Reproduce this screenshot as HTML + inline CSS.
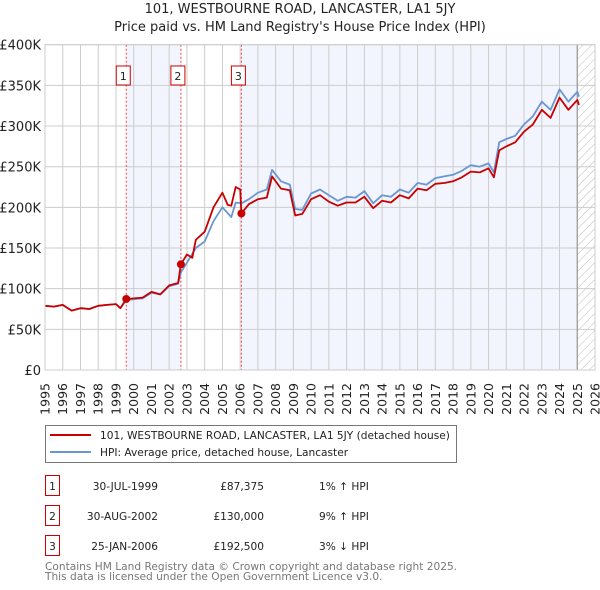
<!DOCTYPE html>
<html><head><meta charset="utf-8"><style>
body{margin:0;background:#fff;font-family:"DejaVu Sans","Liberation Sans",sans-serif;}
#wrap{position:relative;width:600px;height:590px;overflow:hidden}
svg text{font-family:"DejaVu Sans","Liberation Sans",sans-serif}
</style></head><body>
<div id="wrap">
<svg id="chart" width="600" height="590"></svg>
</div>
<script>
const years=[1995,1996,1997,1998,1999,2000,2001,2002,2003,2004,2005,2006,2007,2008,2009,2010,2011,2012,2013,2014,2015,2016,2017,2018,2019,2020,2021,2022,2023,2024,2025,2026];
const yTicks=[0,50000,100000,150000,200000,250000,300000,350000,400000];
const yTickLabels=["£0","£50K","£100K","£150K","£200K","£250K","£300K","£350K","£400K"];
const hpiTimes=[1995,1995.5,1996,1996.5,1997,1997.5,1998,1998.5,1999,1999.25,1999.58,2000,2000.5,2001,2001.5,2002,2002.5,2002.66,2003,2003.5,2004,2004.5,2005,2005.5,2005.75,2006.07,2006.5,2007,2007.5,2007.8,2008.3,2008.8,2009.1,2009.5,2010,2010.5,2011,2011.5,2012,2012.5,2013,2013.5,2014,2014.5,2015,2015.5,2016,2016.5,2017,2017.5,2018,2018.5,2019,2019.5,2020,2020.3,2020.6,2021,2021.5,2022,2022.5,2023,2023.5,2024,2024.5,2025,2025.1];
const hpiValues=[79000,78000,80000,73000,76000,75000,79000,80000,81000,76000,86000,87000,88000,95000,93000,103000,106000,120000,132000,150000,158000,183000,200000,188000,206000,205000,210000,218000,222000,246000,232000,228000,198000,197000,217000,222000,215000,208000,213000,212000,220000,205000,215000,213000,222000,218000,230000,228000,236000,238000,240000,245000,252000,250000,254000,243000,280000,284000,288000,302000,312000,330000,320000,345000,330000,342000,336000];
const saleTimes=[1995,1995.5,1996,1996.5,1997,1997.5,1998,1998.5,1999,1999.25,1999.58,2000,2000.5,2001,2001.5,2002,2002.5,2002.66,2003,2003.3,2003.5,2004,2004.5,2005,2005.3,2005.5,2005.75,2006.0,2006.07,2006.5,2007,2007.5,2007.8,2008.3,2008.8,2009.1,2009.5,2010,2010.5,2011,2011.5,2012,2012.5,2013,2013.5,2014,2014.5,2015,2015.5,2016,2016.5,2017,2017.5,2018,2018.5,2019,2019.5,2020,2020.3,2020.6,2021,2021.5,2022,2022.5,2023,2023.5,2024,2024.5,2025,2025.1];
const saleValues=[79000,78000,80000,73000,76000,75000,79000,80000,81000,76000,87375,88000,89000,96000,93000,104000,107000,130000,142000,138000,160000,170000,200000,218000,203000,202000,225000,222000,192500,204000,210000,212000,238000,223000,221000,190000,192000,210000,215000,207000,202000,206000,206000,213000,199000,208000,206000,215000,211000,223000,221000,229000,230000,232000,237000,244000,243000,248000,237000,270000,275000,280000,293000,302000,320000,310000,335000,320000,332000,326000];
const sales=[{n:"1",t:1999.58,v:87375,date:"30-JUL-1999",price:"£87,375",hpi:"1% ↑ HPI"},{n:"2",t:2002.66,v:130000,date:"30-AUG-2002",price:"£130,000",hpi:"9% ↑ HPI"},{n:"3",t:2006.07,v:192500,date:"25-JAN-2006",price:"£192,500",hpi:"3% ↓ HPI"}];

const X0=45,X1=595,Y0=370,Y1=44.7;
const xs=t=>X0+(t-1995)/(2026-1995)*(X1-X0);
const ys=v=>Y0-v/400000*(Y0-Y1);
const svg=document.getElementById('chart');
const NS="http://www.w3.org/2000/svg";
function mk(tag,attrs,parent){const e=document.createElementNS(NS,tag);for(const k in attrs)e.setAttribute(k,attrs[k]);(parent||svg).appendChild(e);return e;}

let defs=mk('defs',{});
let pat=mk('pattern',{id:'hatch',width:6,height:6,patternUnits:'userSpaceOnUse',patternTransform:'rotate(45)'},defs);
mk('line',{x1:0,y1:0,x2:0,y2:6,stroke:'#bbb','stroke-width':1},pat);

let t1=mk('text',{x:300,y:13,'text-anchor':'middle','font-size':13,fill:'#222'});t1.textContent="101, WESTBOURNE ROAD, LANCASTER, LA1 5JY";

let t2=mk('text',{x:300,y:31,'text-anchor':'middle','font-size':13,fill:'#222'});t2.textContent="Price paid vs. HM Land Registry's House Price Index (HPI)";


let plot=mk('rect',{x:X0,y:Y1,width:X1-X0,height:Y0-Y1,fill:'#fff'});

let sh1=mk('rect',{x:xs(sales[0].t),y:Y1,width:xs(sales[1].t)-xs(sales[0].t),height:Y0-Y1,fill:'#f2f5fd'});

let sh2=mk('rect',{x:xs(sales[2].t),y:Y1,width:xs(2025.0)-xs(sales[2].t),height:Y0-Y1,fill:'#f2f5fd'});

let hz=mk('rect',{x:xs(2025.0),y:Y1,width:X1-xs(2025.0),height:Y0-Y1,fill:'url(#hatch)'});


years.forEach(y=>{let l=mk('line',{x1:xs(y),x2:xs(y),y1:Y1,y2:Y0,stroke:'#ccc','stroke-width':1});

const tx0=xs(y)+4.5,ty0=Y0+13;
let tx=mk('text',{x:tx0,y:ty0,'text-anchor':'end','font-size':12.5,fill:'#222',transform:'rotate(-90 '+tx0+' '+ty0+')'});tx.textContent=y;
});
yTicks.forEach((v,i)=>{let l=mk('line',{x1:X0,x2:X1,y1:ys(v),y2:ys(v),stroke:'#ccc','stroke-width':1});

let tx=mk('text',{x:X0-4,y:ys(v)+5,'text-anchor':'end','font-size':13,fill:'#222'});tx.textContent=yTickLabels[i];
});
let nl=mk('line',{x1:xs(2025.0),x2:xs(2025.0),y1:Y1,y2:Y0,stroke:'#999','stroke-width':1.2});


sales.forEach(s=>{let l=mk('line',{x1:xs(s.t),x2:xs(s.t),y1:Y1,y2:Y0,stroke:'#e44','stroke-width':1,'stroke-dasharray':'2,2'});

let b=mk('rect',{x:xs(s.t)-10,y:66,width:14,height:19,fill:'#fff',stroke:'#c00','stroke-width':1});

let tx=mk('text',{x:xs(s.t)-3,y:80,'text-anchor':'middle','font-size':11,fill:'#222'});tx.textContent=s.n;
});

function path(ts,vs){return ts.map((t,i)=>(i?'L':'M')+xs(t).toFixed(1)+','+ys(vs[i]).toFixed(1)).join('');}
let hp=mk('path',{d:path(hpiTimes,hpiValues),fill:'none',stroke:'#6a96d2','stroke-width':1.8,'stroke-linejoin':'round'});

let rp=mk('path',{d:path(saleTimes,saleValues),fill:'none',stroke:'#c80000','stroke-width':1.8,'stroke-linejoin':'round'});

sales.forEach(s=>{let c=mk('circle',{cx:xs(s.t),cy:ys(s.v),r:4,fill:'#c80000'});
});
let fr=mk('rect',{x:X0,y:Y1,width:X1-X0,height:Y0-Y1,fill:'none',stroke:'#ccc'});


// legend
let lg=mk('rect',{x:45.5,y:425.5,width:411,height:37,fill:'#fff',stroke:'#777'});

let l1=mk('line',{x1:50,x2:91,y1:435,y2:435,stroke:'#c80000','stroke-width':2});

let lt1=mk('text',{x:100,y:439,'font-size':10.6,fill:'#222'});lt1.textContent="101, WESTBOURNE ROAD, LANCASTER, LA1 5JY (detached house)";

let l2=mk('line',{x1:50,x2:91,y1:452,y2:452,stroke:'#6a96d2','stroke-width':2});

let lt2=mk('text',{x:100,y:456,'font-size':10.6,fill:'#222'});lt2.textContent="HPI: Average price, detached house, Lancaster";


// table
sales.forEach((s,i)=>{const y=475+i*30;
let b=mk('rect',{x:45.5,y:y+0.5,width:14,height:20,fill:'#fff',stroke:'#c00'});

let n=mk('text',{x:52.5,y:y+15,'text-anchor':'middle','font-size':10.6,fill:'#222'});n.textContent=s.n;

let d=mk('text',{x:158,y:y+15,'text-anchor':'end','font-size':10.6,fill:'#222'});d.textContent=s.date;

let p=mk('text',{x:264,y:y+15,'text-anchor':'end','font-size':10.6,fill:'#222'});p.textContent=s.price;

let h=mk('text',{x:319,y:y+15,'font-size':10.6,fill:'#222'});h.textContent=s.hpi;
});
let f1=mk('text',{x:45,y:570,'font-size':10.6,fill:'#777'});f1.textContent="Contains HM Land Registry data © Crown copyright and database right 2025.";

let f2=mk('text',{x:45,y:580,'font-size':10.6,fill:'#777'});f2.textContent="This data is licensed under the Open Government Licence v3.0.";

</script>
</body></html>
